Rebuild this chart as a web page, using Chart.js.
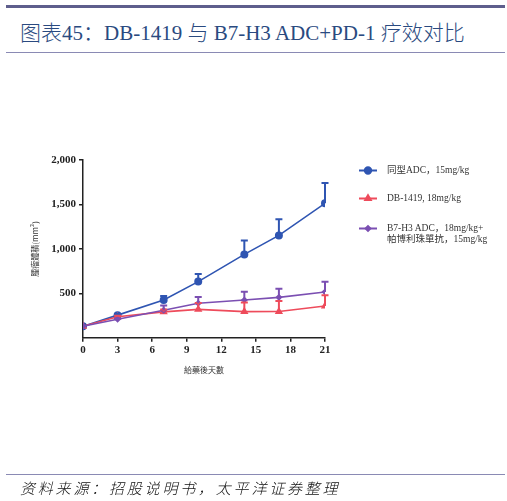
<!DOCTYPE html>
<html>
<head>
<meta charset="utf-8">
<script src="https://cdn.jsdelivr.net/npm/chart.js@4"></script>
<style>
  html, body { margin: 0; padding: 0; background: #fff; }
  body { width: 507px; height: 501px; position: relative; overflow: hidden; }
  #chart { position: absolute; left: 0; top: 0; }
  .rule-top { position: absolute; left: 6px; top: 5px; width: 499px; height: 3px; background: #5e5e8c; }
  .rule-mid { position: absolute; left: 6px; top: 52px; width: 499px; height: 1px; background: #8a8ab4; }
  .rule-foot { position: absolute; left: 6px; top: 474px; width: 499px; height: 1px; background: #8a8ab4; }
  #title { position: absolute; left: 20px; top: 16px; font: 300 21px "Liberation Serif", "Noto Sans CJK SC", serif; color: #2a4a80; white-space: nowrap; }
  #source { position: absolute; left: 20px; top: 477px; font: italic 300 15px "Noto Sans CJK SC", sans-serif; color: #111; letter-spacing: 2.8px; white-space: nowrap; }
  #legend { position: absolute; left: 358px; top: 160px; font: 9.5px "Liberation Serif", "Noto Sans CJK SC", serif; color: #333; }
  .item { position: absolute; left: 0; white-space: nowrap; line-height: 11px; }
  .item canvas { position: absolute; left: 0; top: 0; }
  .item span { position: absolute; left: 29px; top: 0; }
</style>
</head>
<body>
<div class="rule-top"></div>
<div id="title">图表45：DB-1419 与 B7-H3 ADC+PD-1 疗效对比</div>
<div class="rule-mid"></div>
<canvas id="chart" width="507" height="501"></canvas>
<div id="legend"></div>
<div class="rule-foot"></div>
<div id="source">资料来源：招股说明书，太平洋证券整理</div>

<script>
// days after dosing
const days = [0, 3, 7, 10, 14, 17, 21];
const xTicks = [0, 3, 6, 9, 12, 15, 18, 21];

// mean tumour volume (mm3)
const isoAdc = [130, 255, 425, 632, 938, 1152, 1513];
const db1419 = [130, 237, 292, 320, 294, 296, 357];
const comboB7 = [130, 208, 310, 388, 425, 455, 516];

// upper error bar length (mm3)
const isoAdcErr = [0, 12, 45, 86, 157, 181, 227];
const db1419Err = [0, 10, 25, 72, 103, 118, 123];
const comboB7Err = [0, 10, 52, 72, 94, 97, 115];

const yTicks = [500, 1000, 1500, 2000];

const names = ["同型ADC，15mg/kg", "DB-1419, 18mg/kg", "B7-H3 ADC，18mg/kg+\n帕博利珠單抗，15mg/kg"];
const colors = ["#2f55b2", "#ee4b5b", "#7b4fb2"];
const shapes = ["circle", "triangle", "rectRot"];
const sizes = [3.2, 3.2, 2.4];
const legendY = [10, 38, 68];

const series = [isoAdc, db1419, comboB7];
const errs = [isoAdcErr, db1419Err, comboB7Err];

const toPts = arr => arr.map((v, i) => ({ x: days[i], y: v }));

// upward-only error bars with caps
const errorBars = {
    id: "errorBars",
    afterDatasetsDraw(chart) {
        const ctx = chart.ctx;
        const xs = chart.scales.x, ys = chart.scales.y;
        chart.data.datasets.forEach((ds, di) => {
            ctx.save();
            ctx.strokeStyle = ds.borderColor;
            ctx.lineWidth = 2;
            errs[di].forEach((e, i) => {
                if (!e) return;
                const px = xs.getPixelForValue(days[i]);
                const y0 = ys.getPixelForValue(series[di][i]);
                const y1 = ys.getPixelForValue(series[di][i] + e);
                ctx.beginPath();
                ctx.moveTo(px, y0);
                ctx.lineTo(px, y1);
                ctx.moveTo(px - 3.5, y1);
                ctx.lineTo(px + 3.5, y1);
                ctx.stroke();
            });
            ctx.restore();
        });
    }
};

const chart = new Chart(document.getElementById("chart").getContext("2d"), {
    type: "line",
    data: {
        datasets: series.map((s, i) => ({
            label: names[i],
            data: toPts(s),
            borderColor: colors[i],
            backgroundColor: colors[i],
            borderWidth: 1.6,
            pointStyle: shapes[i],
            pointRadius: sizes[i],
            pointHoverRadius: sizes[i],
            tension: 0,
            order: 2 - i
        }))
    },
    options: {
        animation: false,
        responsive: false,
        layout: { padding: { left: 26, right: 182, top: 160, bottom: 122 } },
        plugins: { legend: { display: false }, tooltip: { enabled: false } },
        scales: {
            x: {
                type: "linear",
                min: 0, max: 21,
                afterBuildTicks: s => { s.ticks = xTicks.map(v => ({ value: v })); },
                afterFit: s => { s.height = 501 - 122 - 337.8; },
                border: { color: "#222", width: 1.5 },
                grid: { drawOnChartArea: false, drawTicks: true, tickLength: 4, color: "#222", lineWidth: 1.5 },
                ticks: { color: "#222", padding: 2, font: { family: "Liberation Serif", size: 11, weight: "bold" } },
                title: { display: true, text: "給藥後天數", color: "#333", padding: { top: 3 }, font: { family: "Noto Sans CJK TC", size: 8 } }
            },
            y: {
                min: 0, max: 2000,
                afterBuildTicks: s => { s.ticks = yTicks.map(v => ({ value: v })); },
                afterFit: s => { s.width = 57; },
                border: { color: "#222", width: 1.5 },
                grid: { drawOnChartArea: false, drawTicks: true, tickLength: 4, color: "#222", lineWidth: 1.5 },
                ticks: {
                    color: "#222", padding: 3,
                    font: { family: "Liberation Serif", size: 11, weight: "bold" },
                    callback: v => v.toLocaleString("en-US")
                },
                title: { display: true, text: "腫瘤體積(mm³)", color: "#333", padding: { bottom: 6 }, font: { family: "Noto Sans CJK TC", size: 8 } }
            }
        }
    },
    plugins: [errorBars]
});

// html legend built from the datasets
const legend = document.getElementById("legend");
chart.data.datasets.forEach((ds, i) => {
    const item = document.createElement("div");
    item.className = "item";
    item.style.top = (legendY[i] - 5) + "px";
    const c = document.createElement("canvas");
    c.width = 20; c.height = 11;
    const g = c.getContext("2d");
    g.strokeStyle = ds.borderColor;
    g.fillStyle = ds.borderColor;
    g.lineWidth = 2;
    g.beginPath(); g.moveTo(1, 5.5); g.lineTo(19, 5.5); g.stroke();
    Chart.helpers.drawPoint(g, { pointStyle: ds.pointStyle, radius: ds.pointRadius, borderWidth: 1 }, 10, 5.5);
    item.appendChild(c);
    const t = document.createElement("span");
    t.innerHTML = ds.label.replace("\n", "<br>");
    item.appendChild(t);
    legend.appendChild(item);
});
</script>
</body>
</html>
